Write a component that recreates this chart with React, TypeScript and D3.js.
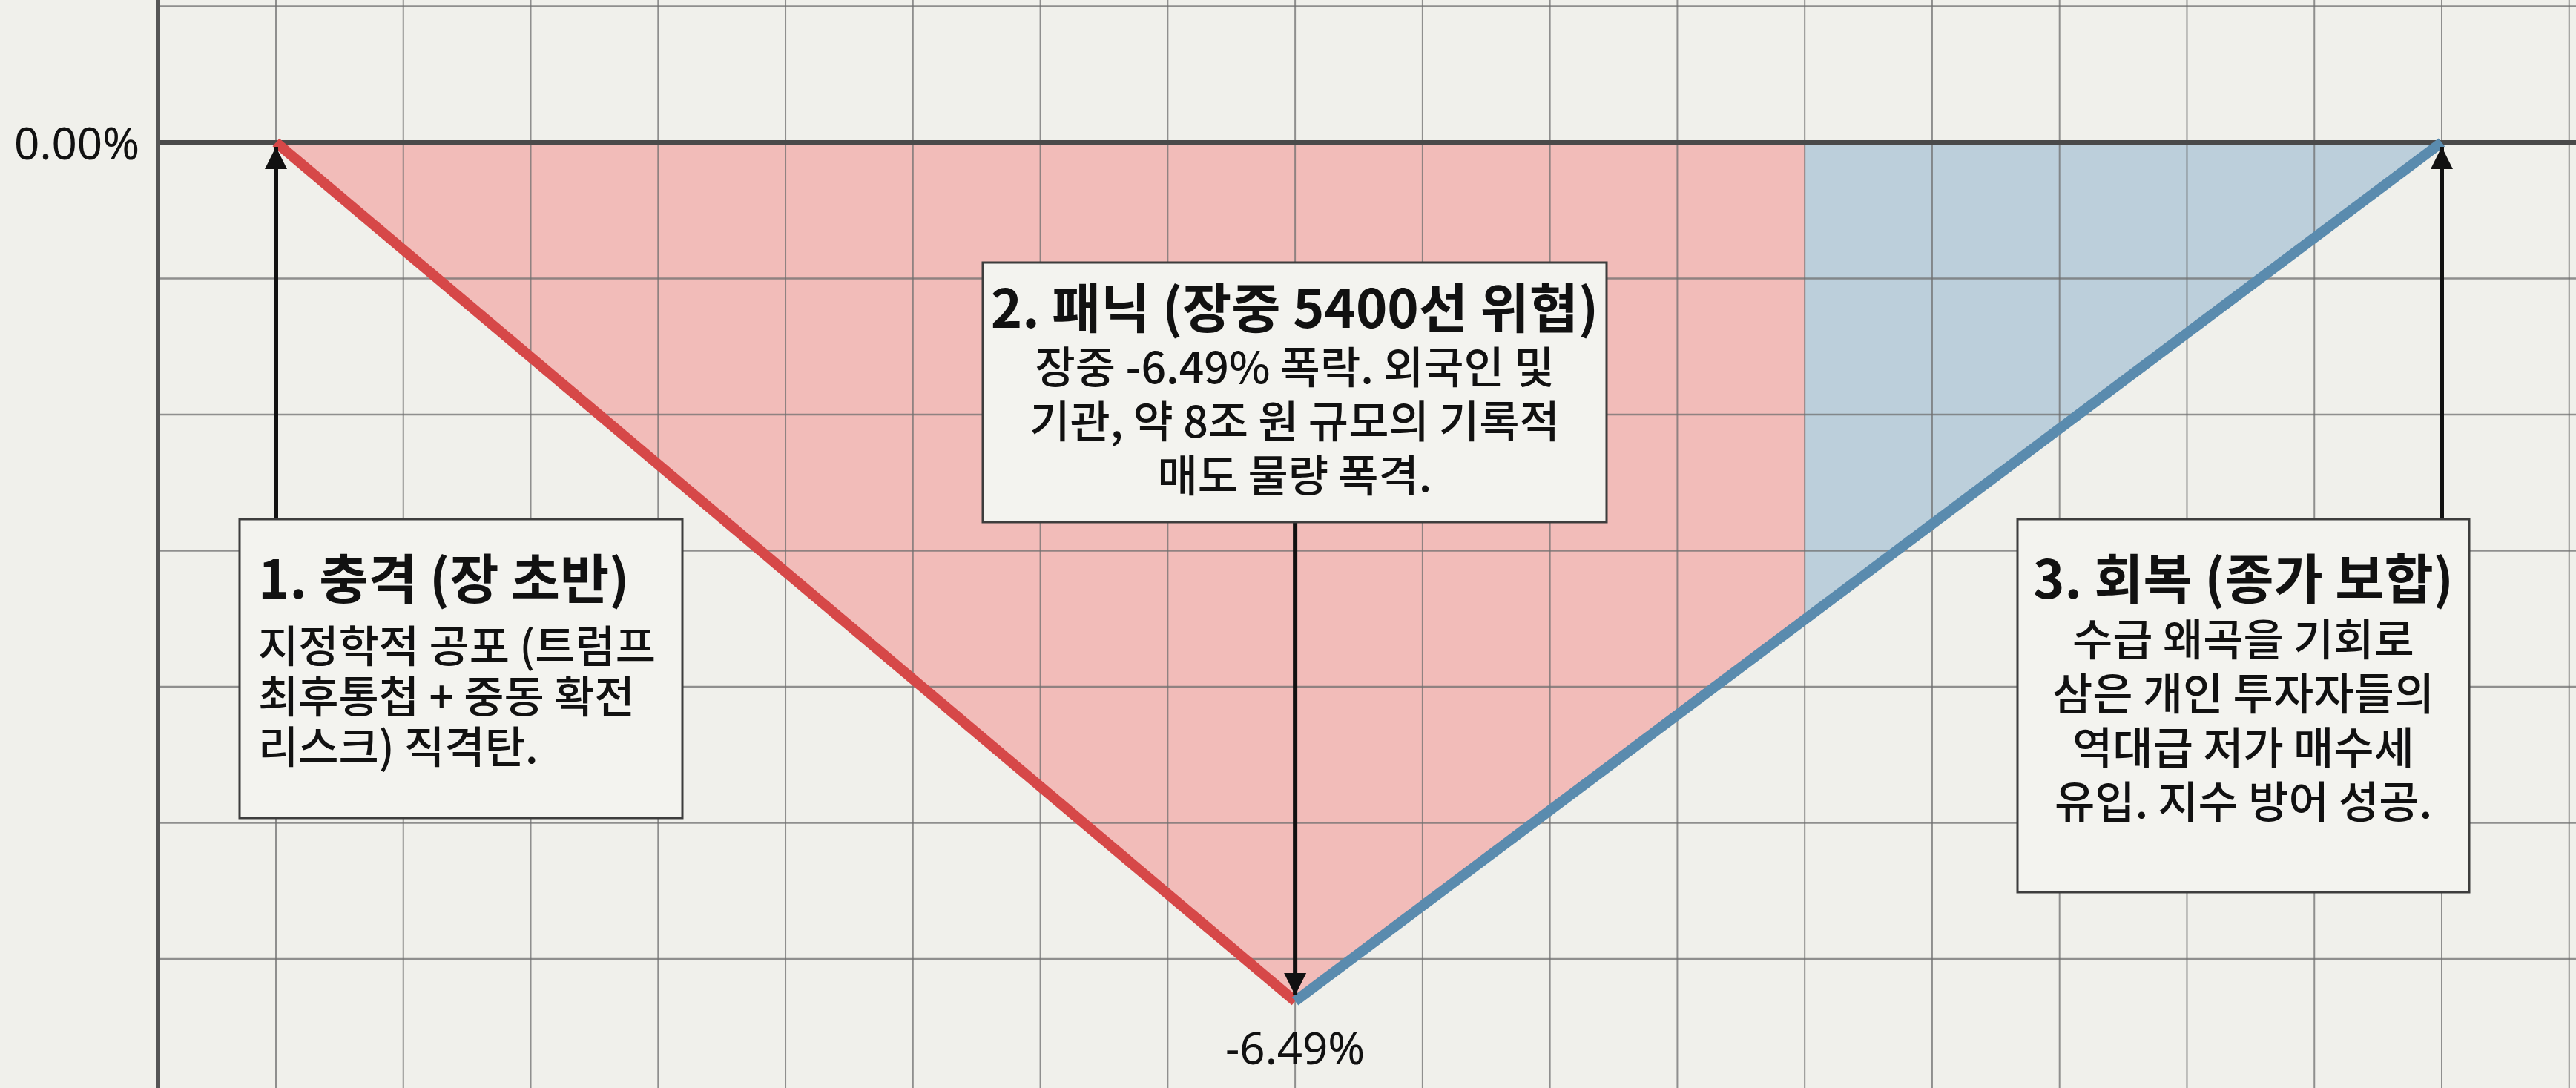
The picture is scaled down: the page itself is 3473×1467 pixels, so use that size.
import React from "react";
import * as d3 from "d3";

// grid column of each checkpoint and the index change there (%)
const phaseLabels = ["장 초반", "장중 저점", "종가"];
const phaseSteps = [0, 8, 17];
const phaseValues = [0, -6.49, 0];
// column where the fill turns from red (falling) to blue (recovery)
const splitStep = 12;

const yTickValues = [0, -6.49];
const yTickLabels = ["0.00%", "-6.49%"];

const noteTitles = ["1. 충격 (장 초반)", "2. 패닉 (장중 5400선 위협)", "3. 회복 (종가 보합)"];
const noteBodies = [
  ["지정학적 공포 (트럼프", "최후통첩 + 중동 확전", "리스크) 직격탄."],
  ["장중 -6.49% 폭락. 외국인 및", "기관, 약 8조 원 규모의 기록적", "매도 물량 폭격."],
  ["수급 왜곡을 기회로", "삼은 개인 투자자들의", "역대급 저가 매수세", "유입. 지수 방어 성공."],
];

const width = 3473;
const height = 1467;
const axisX = 213;
const gridStepY = 183.5;
const kr = "'Noto Sans CJK KR', 'Noto Sans', sans-serif";

// box layout: left, top, right, bottom, text anchor, title y, first body line y, line gap
const boxes = [
  { x0: 323, y0: 700, x1: 920, y1: 1103, align: "start", titleY: 775, bodyY: 867, gap: 68 },
  { x0: 1325, y0: 354, x1: 2166, y1: 704, align: "middle", titleY: 410, bodyY: 491, gap: 73 },
  { x0: 2720, y0: 700, x1: 3329, y1: 1203, align: "middle", titleY: 775, bodyY: 858, gap: 73 },
];

const App = () => {
  const x = d3.scaleLinear().domain([0, 17]).range([372, 3292]);
  const y = d3.scaleLinear().domain([0, -6.49]).range([192, 1350]);

  const pts = phaseSteps.map((s, i) => ({ step: s, pct: phaseValues[i], label: phaseLabels[i] }));

  const area = d3
    .area<any>()
    .x((d) => x(d.step))
    .y0(y(0))
    .y1((d) => y(d.pct));
  const line = d3
    .line<any>()
    .x((d) => x(d.step))
    .y((d) => y(d.pct));

  const vLines = d3.range(0, 19).map((k) => x(k));
  const hLines = d3.range(-1, 8).map((k) => y(0) + k * gridStepY);

  // arrows: from box edge to the data point
  const arrows = [
    { ax: x(pts[0].step), from: boxes[0].y0, to: y(pts[0].pct) + 6 },
    { ax: x(pts[1].step), from: boxes[1].y1, to: y(pts[1].pct) - 8 },
    { ax: x(pts[2].step), from: boxes[2].y0, to: y(pts[2].pct) + 6 },
  ];

  return (
    <svg
      width={width}
      height={height}
      style={{ position: "absolute", left: 0, top: 0, display: "block" }}
    >
      <defs>
        <clipPath id="clip-fall">
          <rect x={x(0) - 20} y={0} width={x(splitStep) - x(0) + 20} height={height} />
        </clipPath>
        <clipPath id="clip-rise">
          <rect x={x(splitStep)} y={0} width={x(17) - x(splitStep) + 20} height={height} />
        </clipPath>
        <marker
          id="head"
          viewBox="0 0 10 10"
          refX="10"
          refY="5"
          markerUnits="userSpaceOnUse"
          markerWidth="30"
          markerHeight="32"
          orient="auto"
        >
          <path d="M0,0 L10,5 L0,10 Z" fill="#111" />
        </marker>
      </defs>

      <rect width={width} height={height} fill="#f0f0eb" />

      {/* shaded areas */}
      <path d={area(pts) || ""} fill="#f2bcb9" clipPath="url(#clip-fall)" />
      <path d={area(pts) || ""} fill="#bccfdb" clipPath="url(#clip-rise)" />

      {/* grid */}
      <g stroke="#6f6f6f" strokeOpacity={0.75}>
        {vLines.map((vx, i) => (
          <line key={"v" + i} x1={vx} x2={vx} y1={0} y2={height} strokeWidth={2} />
        ))}
        {hLines.map((hy, i) => (
          <line key={"h" + i} x1={axisX} x2={width} y1={hy} y2={hy} strokeWidth={2.5} />
        ))}
      </g>
      <line x1={axisX} x2={width} y1={y(0)} y2={y(0)} stroke="#4a4a4a" strokeWidth={6} />
      <line x1={axisX} x2={axisX} y1={0} y2={height} stroke="#555" strokeWidth={6} />

      {/* V lines */}
      <path
        d={line(pts.slice(0, 2)) || ""}
        fill="none"
        stroke="#d64848"
        strokeWidth={14}
        strokeLinecap="butt"
      />
      <path
        d={line(pts.slice(1)) || ""}
        fill="none"
        stroke="#5a8bae"
        strokeWidth={14}
        strokeLinecap="butt"
      />

      {/* arrows */}
      {arrows.map((a, i) => (
        <line
          key={"a" + i}
          x1={a.ax}
          x2={a.ax}
          y1={a.from}
          y2={a.to}
          stroke="#111"
          strokeWidth={6}
          markerEnd="url(#head)"
        />
      ))}

      {/* annotation boxes */}
      {boxes.map((b, i) => {
        const tx = b.align === "start" ? b.x0 + 25 : (b.x0 + b.x1) / 2;
        return (
          <g key={"b" + i}>
            <rect
              x={b.x0}
              y={b.y0}
              width={b.x1 - b.x0}
              height={b.y1 - b.y0}
              fill="#f3f3ef"
              stroke="#3d3d3d"
              strokeWidth={3}
            />
            <text
              x={tx}
              y={b.titleY}
              textAnchor={b.align}
              dominantBaseline="central"
              fontFamily={kr}
              fontWeight={700}
              fontSize={72}
              fill="#111"
            >
              {noteTitles[i]}
            </text>
            {noteBodies[i].map((t, j) => (
              <text
                key={j}
                x={tx}
                y={b.bodyY + j * b.gap}
                textAnchor={b.align}
                dominantBaseline="central"
                fontFamily={kr}
                fontWeight={500}
                fontSize={59}
                fill="#111"
              >
                {t}
              </text>
            ))}
          </g>
        );
      })}

      {/* value labels */}
      <text
        x={axisX - 25}
        y={y(yTickValues[0])}
        textAnchor="end"
        dominantBaseline="central"
        fontFamily="'Noto Sans', sans-serif"
        fontSize={60}
        fill="#111"
      >
        {yTickLabels[0]}
      </text>
      <text
        x={x(pts[1].step)}
        y={y(yTickValues[1]) + 62}
        textAnchor="middle"
        dominantBaseline="central"
        fontFamily="'Noto Sans', sans-serif"
        fontSize={60}
        fill="#111"
      >
        {yTickLabels[1]}
      </text>
    </svg>
  );
};

export default App;
